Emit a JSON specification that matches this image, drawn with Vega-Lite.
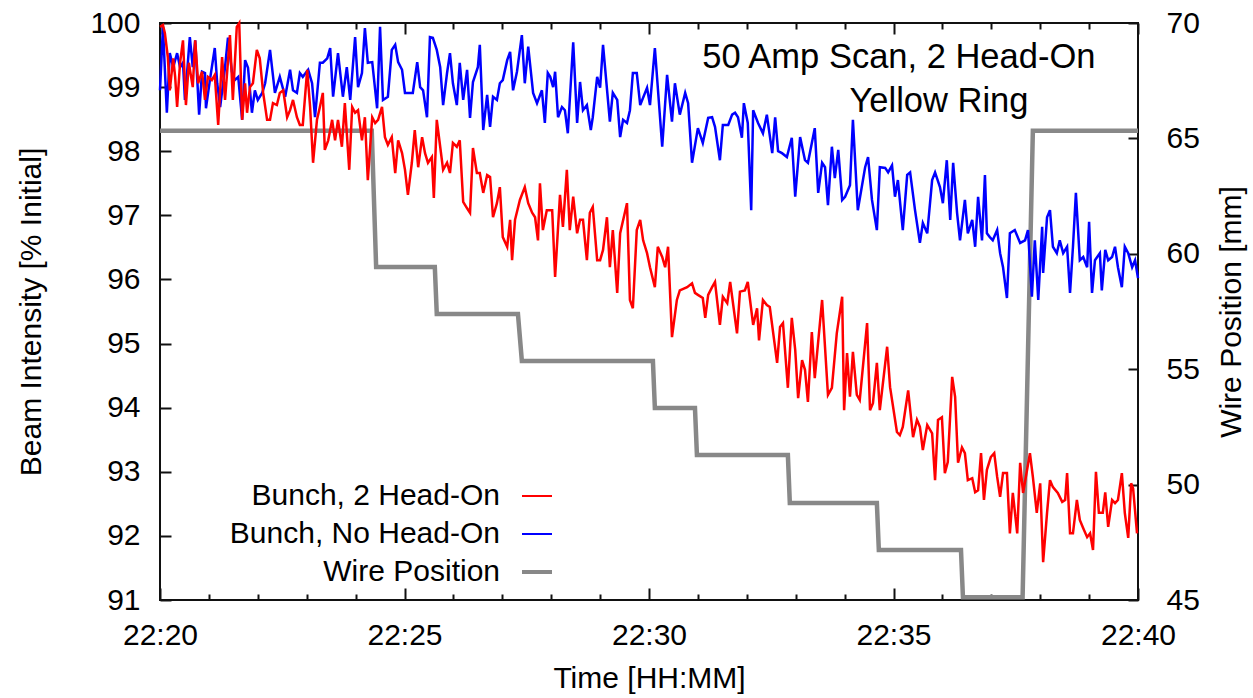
{
  "$schema": "https://vega.github.io/schema/vega-lite/v6.json",
  "width": 978,
  "height": 577,
  "autosize": {"type": "none"},
  "padding": {"left": 160, "top": 23, "right": 115, "bottom": 98},
  "background": "white",
  "config": {
    "font": "Liberation Sans",
    "view": {"stroke": "#111111", "strokeWidth": 2},
    "axis": {"domain": false, "grid": false, "labelFont": "Liberation Sans", "titleFont": "Liberation Sans", "labelColor": "black", "titleColor": "black", "tickColor": "#111111", "tickWidth": 2, "labelFontSize": 30, "titleFontSize": 30, "titleFontWeight": "normal"},
    "legend": {"labelFont": "Liberation Sans"}
  },
  "datasets": {
    "wire": [
      {"t": 0, "v": 65.33}, {"t": 4.33, "v": 65.33}, {"t": 4.42, "v": 59.43}, {"t": 5.62, "v": 59.43},
      {"t": 5.66, "v": 57.39}, {"t": 7.32, "v": 57.39}, {"t": 7.40, "v": 55.36}, {"t": 10.08, "v": 55.36},
      {"t": 10.12, "v": 53.32}, {"t": 10.94, "v": 53.32}, {"t": 10.98, "v": 51.28}, {"t": 12.84, "v": 51.28},
      {"t": 12.88, "v": 49.2}, {"t": 14.66, "v": 49.2}, {"t": 14.7, "v": 47.17}, {"t": 16.38, "v": 47.17},
      {"t": 16.42, "v": 45.12}, {"t": 17.64, "v": 45.12}, {"t": 17.85, "v": 65.33}, {"t": 20, "v": 65.33}
    ],
    "blue": [
      {"t":0,"v":98.95},{"t":0.06,"v":99.94},{"t":0.14,"v":98.6},{"t":0.2,"v":99.53},{"t":0.27,"v":99.31},{"t":0.35,"v":99.53},{"t":0.41,"v":99.31},{"t":0.47,"v":99.38},{"t":0.51,"v":98.8},{"t":0.61,"v":99.78},{"t":0.67,"v":99.31},{"t":0.72,"v":99.73},{"t":0.8,"v":98.57},{"t":0.86,"v":99.24},{"t":0.92,"v":99.22},{"t":0.94,"v":98.67},{"t":1.02,"v":99.11},{"t":1.12,"v":99.61},{"t":1.17,"v":99.06},{"t":1.23,"v":98.69},{"t":1.33,"v":99.31},{"t":1.39,"v":99.77},{"t":1.47,"v":99.24},{"t":1.53,"v":99.11},{"t":1.6,"v":99.16},{"t":1.68,"v":98.49},{"t":1.74,"v":99.42},{"t":1.8,"v":99.3},{"t":1.88,"v":98.6},{"t":1.94,"v":98.95},{"t":2,"v":98.8},{"t":2.09,"v":98.91},{"t":2.15,"v":99.06},{"t":2.25,"v":99.58},{"t":2.35,"v":98.91},{"t":2.45,"v":99.16},{"t":2.56,"v":98.85},{"t":2.66,"v":99.27},{"t":2.72,"v":98.95},{"t":2.8,"v":98.91},{"t":2.86,"v":99.22},{"t":2.92,"v":99.16},{"t":3.03,"v":99.27},{"t":3.11,"v":99.06},{"t":3.17,"v":98.53},{"t":3.27,"v":99.38},{"t":3.33,"v":99.38},{"t":3.42,"v":99.45},{"t":3.48,"v":99.61},{"t":3.54,"v":98.85},{"t":3.64,"v":99.53},{"t":3.74,"v":98.85},{"t":3.82,"v":99.31},{"t":3.89,"v":98.8},{"t":3.99,"v":99.78},{"t":4.05,"v":99.0},{"t":4.13,"v":99.22},{"t":4.19,"v":99.92},{"t":4.25,"v":99.38},{"t":4.34,"v":99.39},{"t":4.44,"v":98.67},{"t":4.5,"v":99.94},{"t":4.56,"v":98.8},{"t":4.66,"v":98.85},{"t":4.74,"v":99.58},{"t":4.81,"v":99.66},{"t":4.87,"v":99.39},{"t":4.95,"v":99.27},{"t":5.01,"v":98.91},{"t":5.17,"v":98.91},{"t":5.26,"v":99.39},{"t":5.32,"v":99.0},{"t":5.38,"v":98.95},{"t":5.46,"v":98.53},{"t":5.52,"v":99.78},{"t":5.58,"v":99.77},{"t":5.66,"v":99.58},{"t":5.73,"v":99.31},{"t":5.79,"v":98.72},{"t":5.87,"v":99.22},{"t":5.93,"v":99.53},{"t":5.99,"v":99.06},{"t":6.07,"v":98.72},{"t":6.13,"v":99.38},{"t":6.2,"v":98.8},{"t":6.28,"v":99.27},{"t":6.34,"v":98.52},{"t":6.4,"v":99.08},{"t":6.5,"v":99.31},{"t":6.54,"v":99.66},{"t":6.61,"v":98.33},{"t":6.69,"v":98.88},{"t":6.75,"v":98.38},{"t":6.81,"v":98.85},{"t":6.89,"v":98.8},{"t":6.95,"v":99.06},{"t":7.01,"v":99.11},{"t":7.1,"v":99.42},{"t":7.16,"v":99.55},{"t":7.22,"v":98.95},{"t":7.3,"v":99.24},{"t":7.4,"v":99.81},{"t":7.46,"v":99.06},{"t":7.53,"v":99.63},{"t":7.63,"v":98.91},{"t":7.71,"v":98.75},{"t":7.81,"v":98.95},{"t":7.87,"v":98.44},{"t":7.93,"v":99.22},{"t":7.98,"v":99.16},{"t":8.04,"v":99.0},{"t":8.08,"v":99.24},{"t":8.14,"v":98.53},{"t":8.22,"v":98.69},{"t":8.28,"v":98.64},{"t":8.34,"v":98.28},{"t":8.45,"v":99.7},{"t":8.53,"v":98.44},{"t":8.59,"v":99.08},{"t":8.65,"v":98.64},{"t":8.73,"v":98.72},{"t":8.81,"v":98.33},{"t":8.85,"v":98.53},{"t":8.94,"v":99.16},{"t":9,"v":98.99},{"t":9.06,"v":99.66},{"t":9.2,"v":98.46},{"t":9.26,"v":98.91},{"t":9.35,"v":98.8},{"t":9.41,"v":98.22},{"t":9.47,"v":98.49},{"t":9.55,"v":98.44},{"t":9.61,"v":98.64},{"t":9.67,"v":99.22},{"t":9.75,"v":99.22},{"t":9.82,"v":98.72},{"t":9.96,"v":98.99},{"t":10.02,"v":98.72},{"t":10.12,"v":99.61},{"t":10.27,"v":98.07},{"t":10.37,"v":99.19},{"t":10.47,"v":98.46},{"t":10.53,"v":99.06},{"t":10.63,"v":98.57},{"t":10.74,"v":98.91},{"t":10.8,"v":98.75},{"t":10.88,"v":97.82},{"t":11,"v":98.36},{"t":11.1,"v":98.13},{"t":11.21,"v":98.52},{"t":11.29,"v":98.53},{"t":11.35,"v":98.38},{"t":11.45,"v":97.86},{"t":11.51,"v":98.41},{"t":11.62,"v":98.41},{"t":11.7,"v":98.57},{"t":11.76,"v":98.6},{"t":11.82,"v":98.53},{"t":11.9,"v":98.21},{"t":11.94,"v":98.75},{"t":12.02,"v":98.44},{"t":12.09,"v":97.08},{"t":12.13,"v":98.64},{"t":12.23,"v":98.44},{"t":12.33,"v":98.28},{"t":12.41,"v":98.57},{"t":12.52,"v":97.97},{"t":12.58,"v":98.53},{"t":12.64,"v":98.0},{"t":12.72,"v":97.97},{"t":12.82,"v":97.91},{"t":12.92,"v":98.21},{"t":12.99,"v":97.29},{"t":13.09,"v":98.22},{"t":13.19,"v":97.86},{"t":13.25,"v":97.82},{"t":13.33,"v":98.13},{"t":13.39,"v":98.36},{"t":13.46,"v":97.35},{"t":13.54,"v":97.82},{"t":13.6,"v":97.75},{"t":13.66,"v":97.16},{"t":13.74,"v":98.07},{"t":13.8,"v":97.58},{"t":13.87,"v":98.02},{"t":13.95,"v":97.24},{"t":14.01,"v":97.29},{"t":14.11,"v":97.47},{"t":14.17,"v":98.49},{"t":14.27,"v":97.08},{"t":14.42,"v":97.75},{"t":14.48,"v":97.91},{"t":14.56,"v":97.24},{"t":14.66,"v":96.77},{"t":14.72,"v":97.75},{"t":14.83,"v":97.74},{"t":14.89,"v":97.67},{"t":14.97,"v":97.78},{"t":15.03,"v":97.29},{"t":15.09,"v":97.55},{"t":15.19,"v":96.77},{"t":15.28,"v":97.63},{"t":15.34,"v":97.67},{"t":15.44,"v":97.08},{"t":15.54,"v":96.57},{"t":15.6,"v":96.88},{"t":15.69,"v":96.72},{"t":15.79,"v":97.55},{"t":15.85,"v":97.67},{"t":15.95,"v":97.44},{"t":16.01,"v":97.19},{"t":16.09,"v":97.86},{"t":16.16,"v":96.93},{"t":16.22,"v":97.82},{"t":16.3,"v":97.04},{"t":16.36,"v":96.61},{"t":16.46,"v":97.24},{"t":16.52,"v":96.72},{"t":16.61,"v":96.93},{"t":16.67,"v":96.51},{"t":16.73,"v":97.29},{"t":16.81,"v":96.61},{"t":16.87,"v":97.63},{"t":16.91,"v":96.72},{"t":16.97,"v":96.66},{"t":17.03,"v":96.61},{"t":17.12,"v":96.77},{"t":17.18,"v":96.41},{"t":17.24,"v":96.19},{"t":17.32,"v":95.71},{"t":17.38,"v":96.72},{"t":17.48,"v":96.77},{"t":17.59,"v":96.57},{"t":17.69,"v":96.61},{"t":17.75,"v":96.77},{"t":17.83,"v":95.73},{"t":17.89,"v":96.61},{"t":17.96,"v":95.68},{"t":18.04,"v":96.82},{"t":18.06,"v":96.1},{"t":18.14,"v":96.97},{"t":18.2,"v":97.08},{"t":18.26,"v":96.51},{"t":18.34,"v":96.41},{"t":18.4,"v":96.61},{"t":18.47,"v":96.41},{"t":18.55,"v":96.51},{"t":18.61,"v":95.79},{"t":18.67,"v":96.51},{"t":18.73,"v":97.35},{"t":18.81,"v":96.3},{"t":18.88,"v":96.35},{"t":18.96,"v":96.19},{"t":19,"v":96.9},{"t":19.06,"v":95.79},{"t":19.12,"v":96.3},{"t":19.22,"v":96.41},{"t":19.26,"v":95.83},{"t":19.33,"v":96.46},{"t":19.39,"v":96.3},{"t":19.47,"v":96.35},{"t":19.53,"v":96.51},{"t":19.59,"v":96.19},{"t":19.67,"v":95.88},{"t":19.73,"v":96.51},{"t":19.8,"v":96.41},{"t":19.88,"v":96.19},{"t":19.94,"v":96.3},{"t":20,"v":96.02}
    ],
    "red": [
      {"t":0,"v":99.94},{"t":0.06,"v":99.97},{"t":0.1,"v":99.84},{"t":0.16,"v":99.47},{"t":0.2,"v":98.95},{"t":0.27,"v":99.45},{"t":0.31,"v":99.16},{"t":0.35,"v":98.69},{"t":0.41,"v":99.38},{"t":0.47,"v":99.73},{"t":0.53,"v":98.72},{"t":0.59,"v":99.38},{"t":0.67,"v":99.0},{"t":0.72,"v":99.73},{"t":0.78,"v":99.06},{"t":0.86,"v":99.24},{"t":0.92,"v":98.8},{"t":0.98,"v":99.16},{"t":1.06,"v":99.11},{"t":1.12,"v":99.19},{"t":1.19,"v":98.41},{"t":1.27,"v":99.47},{"t":1.33,"v":98.8},{"t":1.43,"v":99.81},{"t":1.49,"v":98.8},{"t":1.57,"v":99.94},{"t":1.62,"v":100},{"t":1.68,"v":98.49},{"t":1.74,"v":99.06},{"t":1.78,"v":98.6},{"t":1.84,"v":99.0},{"t":1.9,"v":99.06},{"t":1.98,"v":99.58},{"t":2.04,"v":99.45},{"t":2.11,"v":98.91},{"t":2.19,"v":98.49},{"t":2.25,"v":98.49},{"t":2.31,"v":98.75},{"t":2.39,"v":98.72},{"t":2.45,"v":98.91},{"t":2.52,"v":98.95},{"t":2.6,"v":98.53},{"t":2.66,"v":98.64},{"t":2.72,"v":98.8},{"t":2.8,"v":98.53},{"t":2.86,"v":98.41},{"t":2.92,"v":98.41},{"t":3.01,"v":99.27},{"t":3.07,"v":98.69},{"t":3.13,"v":97.82},{"t":3.21,"v":98.49},{"t":3.27,"v":98.69},{"t":3.33,"v":98.91},{"t":3.37,"v":98.02},{"t":3.44,"v":98.17},{"t":3.52,"v":98.49},{"t":3.58,"v":98.17},{"t":3.64,"v":98.49},{"t":3.72,"v":98.07},{"t":3.78,"v":98.75},{"t":3.87,"v":97.71},{"t":3.93,"v":98.69},{"t":3.99,"v":98.6},{"t":4.05,"v":98.64},{"t":4.13,"v":98.17},{"t":4.19,"v":98.53},{"t":4.25,"v":97.55},{"t":4.34,"v":98.53},{"t":4.4,"v":98.44},{"t":4.46,"v":98.49},{"t":4.54,"v":98.69},{"t":4.6,"v":98.22},{"t":4.66,"v":98.1},{"t":4.74,"v":98.22},{"t":4.81,"v":97.66},{"t":4.87,"v":98.17},{"t":4.95,"v":97.97},{"t":5.01,"v":97.71},{"t":5.07,"v":97.32},{"t":5.15,"v":97.82},{"t":5.21,"v":98.33},{"t":5.28,"v":97.75},{"t":5.36,"v":98.22},{"t":5.42,"v":97.97},{"t":5.48,"v":97.82},{"t":5.56,"v":97.91},{"t":5.6,"v":97.27},{"t":5.66,"v":98.49},{"t":5.73,"v":98.07},{"t":5.79,"v":97.71},{"t":5.87,"v":97.82},{"t":5.93,"v":97.66},{"t":5.99,"v":98.13},{"t":6.07,"v":98.07},{"t":6.13,"v":98.17},{"t":6.2,"v":97.21},{"t":6.28,"v":97.11},{"t":6.34,"v":97.04},{"t":6.4,"v":98.05},{"t":6.48,"v":97.66},{"t":6.54,"v":97.66},{"t":6.61,"v":97.35},{"t":6.69,"v":97.63},{"t":6.75,"v":97.6},{"t":6.81,"v":96.97},{"t":6.89,"v":97.19},{"t":6.95,"v":97.44},{"t":7.01,"v":96.66},{"t":7.1,"v":96.51},{"t":7.16,"v":96.93},{"t":7.2,"v":96.3},{"t":7.26,"v":96.93},{"t":7.36,"v":97.24},{"t":7.46,"v":97.44},{"t":7.53,"v":97.19},{"t":7.61,"v":97.04},{"t":7.67,"v":96.97},{"t":7.73,"v":96.61},{"t":7.77,"v":97.5},{"t":7.83,"v":96.77},{"t":7.91,"v":97.08},{"t":8.02,"v":97.08},{"t":8.08,"v":96.04},{"t":8.18,"v":97.32},{"t":8.24,"v":96.82},{"t":8.32,"v":97.71},{"t":8.38,"v":96.77},{"t":8.45,"v":97.29},{"t":8.53,"v":96.72},{"t":8.59,"v":96.93},{"t":8.65,"v":96.93},{"t":8.73,"v":96.3},{"t":8.79,"v":97.04},{"t":8.85,"v":97.13},{"t":8.94,"v":96.3},{"t":9,"v":96.3},{"t":9.06,"v":96.46},{"t":9.14,"v":96.97},{"t":9.2,"v":96.19},{"t":9.26,"v":96.77},{"t":9.35,"v":95.79},{"t":9.41,"v":96.72},{"t":9.55,"v":97.19},{"t":9.61,"v":95.68},{"t":9.67,"v":95.55},{"t":9.75,"v":96.77},{"t":9.82,"v":96.93},{"t":9.88,"v":96.61},{"t":9.96,"v":96.41},{"t":10.02,"v":96.19},{"t":10.12,"v":95.88},{"t":10.18,"v":96.51},{"t":10.27,"v":96.35},{"t":10.33,"v":96.19},{"t":10.39,"v":96.51},{"t":10.47,"v":95.1},{"t":10.57,"v":95.68},{"t":10.63,"v":95.83},{"t":10.78,"v":95.88},{"t":10.88,"v":95.94},{"t":10.94,"v":95.79},{"t":11,"v":95.76},{"t":11.1,"v":95.71},{"t":11.15,"v":95.4},{"t":11.21,"v":95.76},{"t":11.29,"v":95.88},{"t":11.35,"v":95.96},{"t":11.45,"v":95.29},{"t":11.51,"v":95.73},{"t":11.6,"v":95.63},{"t":11.66,"v":95.96},{"t":11.8,"v":95.16},{"t":11.86,"v":95.81},{"t":11.96,"v":95.83},{"t":12.02,"v":95.96},{"t":12.13,"v":95.29},{"t":12.21,"v":95.55},{"t":12.25,"v":95.05},{"t":12.33,"v":95.68},{"t":12.41,"v":95.6},{"t":12.47,"v":95.57},{"t":12.62,"v":94.7},{"t":12.68,"v":95.26},{"t":12.74,"v":95.32},{"t":12.84,"v":94.31},{"t":12.92,"v":95.4},{"t":12.99,"v":94.9},{"t":13.05,"v":94.15},{"t":13.13,"v":94.74},{"t":13.19,"v":94.59},{"t":13.25,"v":94.09},{"t":13.33,"v":95.18},{"t":13.39,"v":94.46},{"t":13.54,"v":95.68},{"t":13.66,"v":94.2},{"t":13.74,"v":94.31},{"t":13.84,"v":95.16},{"t":13.95,"v":95.73},{"t":13.99,"v":93.96},{"t":14.05,"v":94.85},{"t":14.11,"v":94.17},{"t":14.17,"v":94.87},{"t":14.25,"v":94.2},{"t":14.31,"v":94.12},{"t":14.46,"v":95.32},{"t":14.52,"v":93.96},{"t":14.58,"v":94.07},{"t":14.66,"v":94.7},{"t":14.72,"v":93.96},{"t":14.87,"v":94.95},{"t":14.93,"v":94.32},{"t":15.07,"v":93.62},{"t":15.13,"v":93.57},{"t":15.19,"v":93.7},{"t":15.3,"v":94.27},{"t":15.4,"v":93.54},{"t":15.48,"v":93.81},{"t":15.54,"v":93.7},{"t":15.6,"v":93.34},{"t":15.69,"v":93.73},{"t":15.79,"v":93.6},{"t":15.85,"v":92.87},{"t":15.91,"v":93.81},{"t":15.99,"v":93.85},{"t":16.05,"v":92.98},{"t":16.11,"v":93.15},{"t":16.2,"v":94.48},{"t":16.26,"v":94.17},{"t":16.32,"v":93.14},{"t":16.4,"v":93.38},{"t":16.46,"v":93.29},{"t":16.52,"v":92.87},{"t":16.61,"v":92.9},{"t":16.67,"v":92.68},{"t":16.73,"v":92.71},{"t":16.79,"v":93.29},{"t":16.85,"v":92.56},{"t":16.91,"v":93.03},{"t":16.99,"v":93.23},{"t":17.06,"v":93.29},{"t":17.12,"v":92.92},{"t":17.18,"v":92.61},{"t":17.24,"v":92.98},{"t":17.32,"v":92.98},{"t":17.38,"v":92.04},{"t":17.44,"v":92.67},{"t":17.53,"v":92.04},{"t":17.59,"v":93.14},{"t":17.65,"v":92.67},{"t":17.79,"v":93.29},{"t":17.85,"v":92.92},{"t":17.93,"v":92.36},{"t":18,"v":92.82},{"t":18.06,"v":91.59},{"t":18.14,"v":92.36},{"t":18.2,"v":92.87},{"t":18.26,"v":92.76},{"t":18.36,"v":92.67},{"t":18.45,"v":92.53},{"t":18.51,"v":92.56},{"t":18.55,"v":92.98},{"t":18.61,"v":92.04},{"t":18.67,"v":92.04},{"t":18.75,"v":92.56},{"t":18.81,"v":92.25},{"t":18.88,"v":92.12},{"t":18.96,"v":91.98},{"t":19.02,"v":92.04},{"t":19.08,"v":91.78},{"t":19.14,"v":93.0},{"t":19.2,"v":92.36},{"t":19.28,"v":92.36},{"t":19.33,"v":92.68},{"t":19.39,"v":92.14},{"t":19.47,"v":92.56},{"t":19.53,"v":92.51},{"t":19.59,"v":92.56},{"t":19.67,"v":92.98},{"t":19.73,"v":92.36},{"t":19.8,"v":91.97},{"t":19.86,"v":92.82},{"t":19.9,"v":92.74},{"t":19.98,"v":92.04}
    ]
  },
  "resolve": {"scale": {"y": "independent"}, "axis": {"x": "independent", "y": "independent"}},
  "layer": [
    {
      "data": {"name": "wire"},
      "mark": {"type": "line", "strokeWidth": 4.5, "strokeJoin": "miter"},
      "encoding": {
        "x": {"field": "t", "type": "quantitative", "scale": {"domain": [0, 20], "nice": false, "zero": false},
          "axis": {"orient": "top", "values": [0,1,2,3,4,5,6,7,8,9,10,11,12,13,14,15,16,17,18,19,20], "labels": false, "title": null,
            "tickSize": {"condition": {"test": "datum.value % 5 === 0", "value": -11}, "value": -6}}},
        "y": {"field": "v", "type": "quantitative", "scale": {"domain": [45, 70], "nice": false, "zero": false},
          "axis": {"orient": "right", "values": [45, 50, 55, 60, 65, 70], "format": "d", "tickSize": -10, "labelPadding": 38, "title": "Wire Position [mm]", "titleAngle": -90, "titlePadding": 47}},
        "color": {"datum": "Wire Position", "type": "nominal",
          "scale": {"domain": ["Bunch, 2 Head-On", "Bunch, No Head-On", "Wire Position"], "range": ["#ff0000", "#0000ff", "#888888"]},
          "legend": {"orient": "none", "legendX": 362, "legendY": 458, "title": null, "direction": "vertical", "padding": 0,
            "symbolType": "stroke", "symbolSize": 900, "symbolStrokeWidth": 2, "labelFontSize": 30, "labelColor": "black",
            "labelAlign": "right", "labelOffset": -52, "labelLimit": 500, "rowPadding": 8,
            "encode": {"symbols": {"update": {"strokeWidth": {"signal": "datum.value === 'Wire Position' ? 4 : 2"}}}}}}
      }
    },
    {
      "layer": [
        {
          "data": {"name": "blue"},
          "mark": {"type": "line", "strokeWidth": 2.5},
          "encoding": {
            "x": {"field": "t", "type": "quantitative", "scale": {"domain": [0, 20], "nice": false, "zero": false},
              "axis": {"orient": "bottom", "values": [0,1,2,3,4,5,6,7,8,9,10,11,12,13,14,15,16,17,18,19,20],
                "labelExpr": "datum.value % 5 === 0 ? '22:' + (20 + datum.value) : ''", "labelOverlap": false, "labelFlush": false, "labelBound": false,
                "tickSize": {"condition": {"test": "datum.value % 5 === 0", "value": -12}, "value": -6},
                "labelPadding": 32, "title": "Time [HH:MM]", "titlePadding": 7}},
            "y": {"field": "v", "type": "quantitative", "scale": {"domain": [91, 100], "nice": false, "zero": false},
              "axis": {"orient": "left", "values": [91,92,93,94,95,96,97,98,99,100], "format": "d", "tickSize": -11, "labelPadding": 31, "title": "Beam Intensity [% Initial]", "titlePadding": 43}},
            "color": {"datum": "Bunch, No Head-On", "type": "nominal",
              "scale": {"domain": ["Bunch, 2 Head-On", "Bunch, No Head-On", "Wire Position"], "range": ["#ff0000", "#0000ff", "#888888"]}}
          }
        },
        {
          "data": {"name": "red"},
          "mark": {"type": "line", "strokeWidth": 2.5},
          "encoding": {
            "x": {"field": "t", "type": "quantitative"},
            "y": {"field": "v", "type": "quantitative"},
            "color": {"datum": "Bunch, 2 Head-On", "type": "nominal"}
          }
        },
        {
          "data": {"values": [{}]},
          "mark": {"type": "text", "fontSize": 34.5, "align": "center", "baseline": "middle", "color": "black", "text": "50 Amp Scan, 2 Head-On"},
          "encoding": {"x": {"datum": 15.11}, "y": {"datum": 99.46}}
        },
        {
          "data": {"values": [{}]},
          "mark": {"type": "text", "fontSize": 34.5, "align": "center", "baseline": "middle", "color": "black", "text": "Yellow Ring"},
          "encoding": {"x": {"datum": 15.93}, "y": {"datum": 98.76}}
        }
      ]
    }
  ]
}
